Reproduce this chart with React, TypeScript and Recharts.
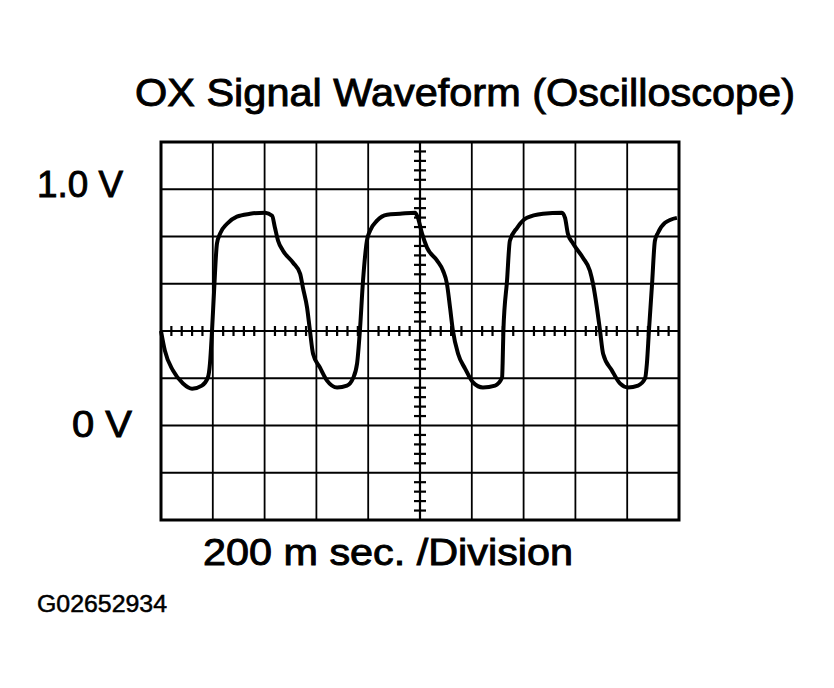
import {
  ComposedChart,
  Line,
  Scatter,
  XAxis,
  YAxis,
  CartesianGrid,
  ReferenceLine,
  ReferenceArea,
} from 'recharts'

// time in ms (200 ms per division, 10 divisions)
const timeMs = [
  0, 15, 46, 85, 120, 158, 181, 189, 197, 205, 216, 228, 255, 293, 344, 402, 429, 440, 452, 471,
  510, 537, 548, 564, 575, 587, 614, 641, 680, 718, 741, 757, 768, 780, 795, 807, 834, 873, 923,
  981, 992, 1008, 1027, 1066, 1089, 1104, 1116, 1127, 1147, 1174, 1205, 1243, 1290, 1317, 1319,
  1322, 1336, 1347, 1375, 1413, 1475, 1548, 1560, 1571, 1591, 1629, 1656, 1668, 1683, 1695, 1707,
  1741, 1772, 1803, 1842, 1869, 1876, 1884, 1896, 1907, 1919, 1946, 1992,
]

// sensor voltage (0.2 V per division)
const volts = [
  0.4, 0.317, 0.233, 0.178, 0.156, 0.169, 0.203, 0.262, 0.402, 0.571, 0.77, 0.812, 0.854, 0.884,
  0.896, 0.901, 0.888, 0.837, 0.782, 0.74, 0.689, 0.643, 0.583, 0.499, 0.402, 0.304, 0.245, 0.19,
  0.161, 0.169, 0.199, 0.262, 0.402, 0.613, 0.782, 0.824, 0.867, 0.892, 0.896, 0.901, 0.879,
  0.812, 0.753, 0.698, 0.655, 0.6, 0.499, 0.402, 0.304, 0.241, 0.182, 0.161, 0.169, 0.203, 0.262,
  0.402, 0.613, 0.782, 0.837, 0.879, 0.896, 0.901, 0.879, 0.812, 0.77, 0.71, 0.655, 0.6, 0.499,
  0.402, 0.304, 0.233, 0.178, 0.161, 0.169, 0.199, 0.262, 0.402, 0.6, 0.782, 0.816, 0.858, 0.879,
]

const timeDivisions = [0, 200, 400, 600, 800, 1000, 1200, 1400, 1600, 1800, 2000]
const voltDivisions = [-0.4, -0.2, 0, 0.2, 0.4, 0.6, 0.8, 1.0, 1.2]

// small graticule marks on the centre cross
const timeMinorTicks = [
  40, 80, 120, 160, 240, 280, 320, 360, 440, 480, 520, 560, 640, 680, 720, 760, 840, 880, 920,
  960, 1040, 1080, 1120, 1160, 1240, 1280, 1320, 1360, 1440, 1480, 1520, 1560, 1640, 1680, 1720,
  1760, 1840, 1880, 1920, 1960,
]
const voltMinorTicks = [
  -0.36, -0.32, -0.28, -0.24, -0.16, -0.12, -0.08, -0.04, 0.04, 0.08, 0.12, 0.16, 0.24, 0.28,
  0.32, 0.36, 0.44, 0.48, 0.52, 0.56, 0.64, 0.68, 0.72, 0.76, 0.84, 0.88, 0.92, 0.96, 1.04, 1.08,
  1.12, 1.16,
]

const CENTER_T = 1000
const CENTER_V = 0.4

const waveform = timeMs.map((t, i) => ({ t, v: volts[i] }))
const hTicks = timeMinorTicks.map(t => ({ t, v: CENTER_V }))
const vTicks = voltMinorTicks.map(v => ({ t: CENTER_T, v }))

const FONT = '"Liberation Sans", Arial, Helvetica, sans-serif'

function VerticalMark({ cx, cy }: { cx?: number; cy?: number }) {
  if (cx == null || cy == null) return null
  return <line x1={cx} x2={cx} y1={cy - 5} y2={cy + 5} stroke="#000" strokeWidth={2.2} />
}

function HorizontalMark({ cx, cy }: { cx?: number; cy?: number }) {
  if (cx == null || cy == null) return null
  return <line x1={cx - 6} x2={cx + 6} y1={cy} y2={cy} stroke="#000" strokeWidth={2.2} />
}

export default function App() {
  return (
    <div style={{ position: 'absolute', left: 0, top: 0, width: 834, height: 688, background: '#fff' }}>
      <ComposedChart
        width={834}
        height={688}
        data={waveform}
        margin={{ top: 142, right: 155, bottom: 168, left: 161 }}
      >
        <XAxis type="number" dataKey="t" domain={[0, 2000]} ticks={timeDivisions} hide />
        <YAxis type="number" dataKey="v" domain={[-0.4, 1.2]} ticks={voltDivisions} hide />
        <CartesianGrid stroke="#000" strokeWidth={1.8} />
        <ReferenceLine x={CENTER_T} stroke="#000" strokeWidth={2.2} />
        <ReferenceLine y={CENTER_V} stroke="#000" strokeWidth={2.2} />
        <Scatter data={hTicks} dataKey="v" shape={<VerticalMark />} isAnimationActive={false} />
        <Scatter data={vTicks} dataKey="v" shape={<HorizontalMark />} isAnimationActive={false} />
        <ReferenceArea
          x1={0}
          x2={2000}
          y1={-0.4}
          y2={1.2}
          fill="none"
          fillOpacity={0}
          stroke="#000"
          strokeWidth={3}
        />
        <Line
          type="monotone"
          dataKey="v"
          stroke="#000"
          strokeWidth={4}
          dot={false}
          isAnimationActive={false}
        />
      </ComposedChart>
      <svg
        width={834}
        height={688}
        style={{ position: 'absolute', left: 0, top: 0, pointerEvents: 'none' }}
      >
        <g fontFamily={FONT} fill="#000" stroke="#000" strokeWidth={0.9}>
          <text x={135} y={106} fontSize={39} textLength={660} lengthAdjust="spacingAndGlyphs">
            OX Signal Waveform (Oscilloscope)
          </text>
          <text x={37} y={197} fontSize={37} textLength={86} lengthAdjust="spacingAndGlyphs">
            1.0 V
          </text>
          <text x={72} y={437} fontSize={36} textLength={60} lengthAdjust="spacingAndGlyphs">
            0 V
          </text>
          <text x={203} y={565} fontSize={36} textLength={370} lengthAdjust="spacingAndGlyphs">
            200 m sec. /Division
          </text>
          <text x={37} y={612} fontSize={23} textLength={130} strokeWidth={0.5} lengthAdjust="spacingAndGlyphs">
            G02652934
          </text>
        </g>
      </svg>
    </div>
  )
}
